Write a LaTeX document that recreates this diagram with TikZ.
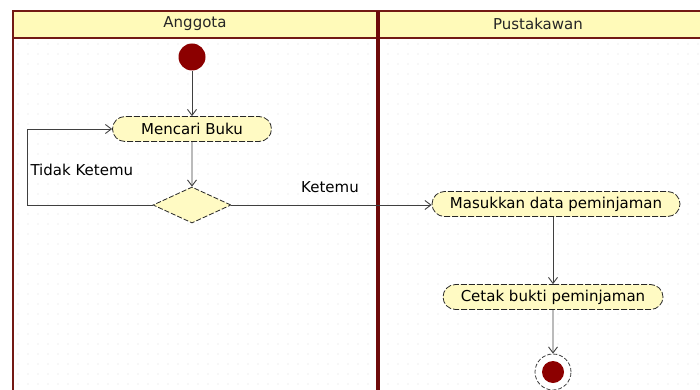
\documentclass[tikz,border=0pt]{standalone}
\usepackage{fontspec}
\setmainfont{DejaVu Sans}
\usetikzlibrary{arrows.meta, shapes.geometric, shapes.misc, positioning}
\definecolor{lanered}{RGB}{115,25,20}
\definecolor{divred}{RGB}{110,10,10}
\definecolor{laneyellow}{RGB}{255,250,185}
\definecolor{actyellow}{RGB}{255,250,195}
\definecolor{dotred}{RGB}{140,0,0}

\begin{document}
\begin{tikzpicture}[x=1pt, y=-1pt, font=\fontsize{15}{17}\selectfont,
    >={Straight Barb[length=6pt,width=9pt]},
    flow/.style={->, draw=black!75, line width=0.9pt},
    action/.style={rounded rectangle, draw=black!85, line width=0.8pt, dash pattern=on 6pt off 2pt,
                   fill=actyellow, minimum height=25pt, inner sep=0pt},
    decision/.style={diamond, draw=black!85, line width=0.8pt, dash pattern=on 5pt off 2pt,
                     fill=actyellow, minimum width=78pt, minimum height=36pt, inner sep=0pt},
    lanetitle/.style={text=black!85}]
    \useasboundingbox (0,0) rectangle (700,390);
    \clip (0,0) rectangle (700,390);

    % --- Swimlanes ---
    \fill[white] (0,0) rectangle (700,390);
    \foreach \gx in {18,28,...,698}
        \foreach \gy in {44,54,...,388}
            \fill[black!13] (\gx,\gy) circle (0.6);
    \draw[fill=laneyellow, draw=lanered, line width=1.5pt] (13,11) rectangle (705,38);
    \draw[lanered, line width=1.5pt] (13,11) -- (13,395);
    \draw[divred, line width=4pt] (378,11) -- (378,395);
    \node[lanetitle] (anggota) at (195,24) {Anggota};
    \node[lanetitle] (pustakawan) at (538,24) {Pustakawan};

    % --- Anggota ---
    \node[circle, fill=dotred, minimum size=27pt, inner sep=0pt] (start) at (192,57) {};
    \node[action, minimum width=159pt] (cari) at (192,129) {Mencari Buku};
    \node[decision] (cek) at (192,205) {};
    \coordinate (loopbot) at (27,205);
    \coordinate (looptop) at (27,129);

    \draw[flow] (start) -- (cari);
    \draw[flow] (cari) -- (cek);
    \draw[flow] (cek.west) -- (loopbot) -- (looptop) -- (cari.west);
    \node[anchor=west] (tidak) at (27,170) {Tidak Ketemu};

    % --- Pustakawan ---
    \node[action, minimum width=248pt] (masuk) at (556,204) {Masukkan data peminjaman};
    \node[action, minimum width=220pt] (cetak) at (553,297) {Cetak bukti peminjaman};
    \node[circle, draw=black!75, line width=0.8pt, dash pattern=on 4pt off 2pt, fill=white,
          minimum size=36pt, inner sep=0pt] (stop) at (553,372) {};
    \node[circle, fill=dotred, minimum size=22pt, inner sep=0pt] at (stop) {};

    \draw[flow] (cek.east) -- (cek.east -| masuk.west);
    \node (ketemu) at (330,187) {Ketemu};
    \draw[flow] (masuk.south -| cetak.north) -- (cetak.north);
    \draw[flow] (cetak) -- (stop);
\end{tikzpicture}
\end{document}
